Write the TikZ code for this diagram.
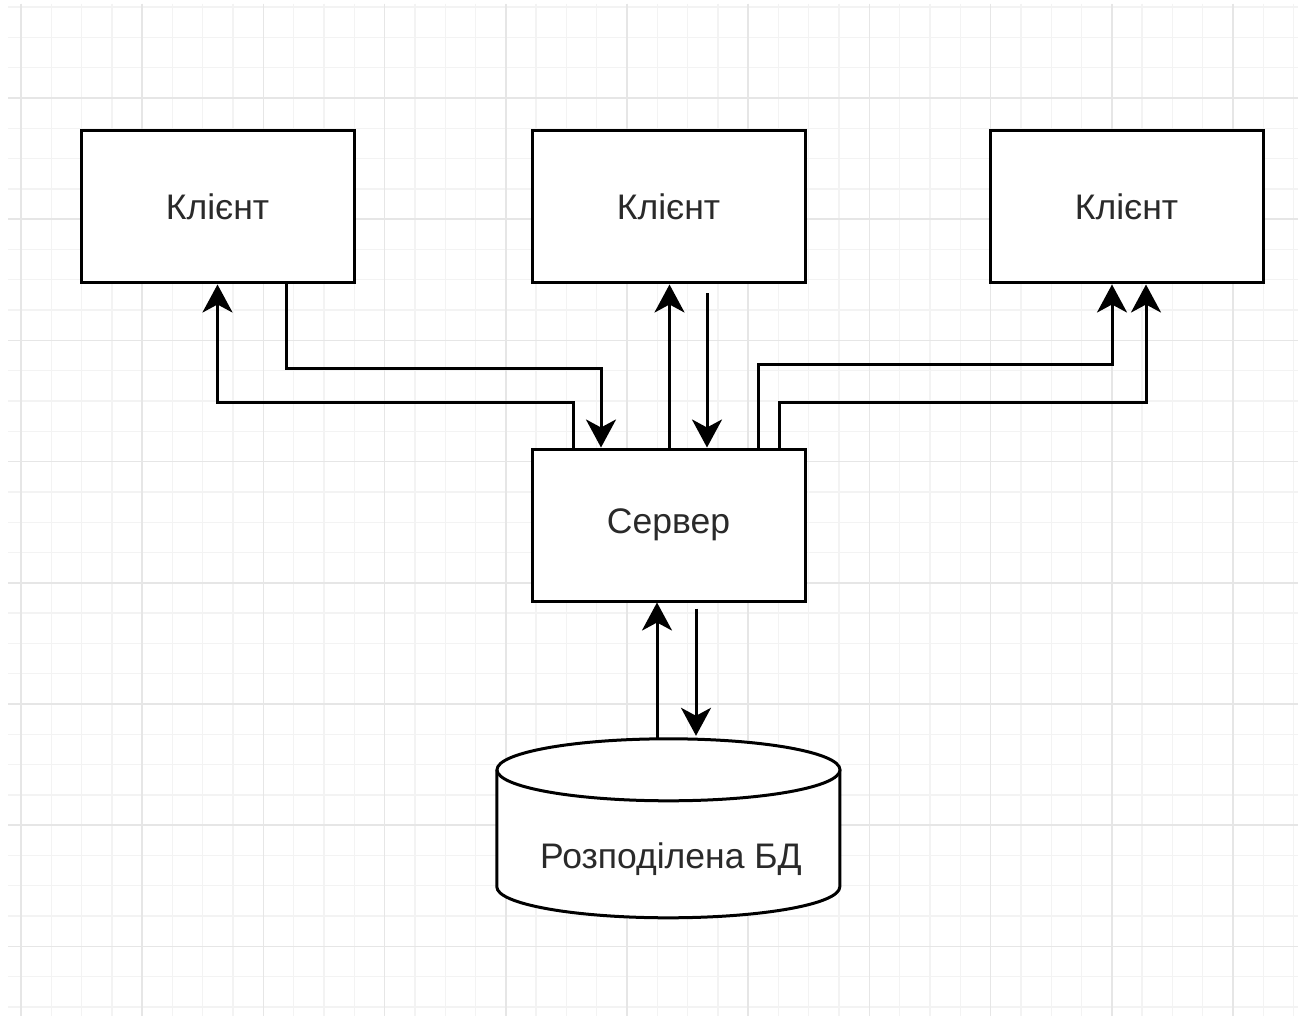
\documentclass[tikz,border=0pt]{standalone}
\usepackage{fontspec}
\setmainfont{Liberation Sans}
\usetikzlibrary{arrows.meta}
\definecolor{gridminor}{HTML}{F3F3F3}
\definecolor{gridmajor}{HTML}{E6E6E6}
\definecolor{ink}{HTML}{2A2A2A}

\begin{document}
\begin{tikzpicture}[x=1pt,y=-1pt]
    \tikzstyle{box}=[rectangle,draw,line width=3pt,fill=white,minimum width=273pt,minimum height=152pt,inner sep=0pt,text=ink,font=\fontsize{35.5}{40}\selectfont]
    \tikzstyle{link}=[line width=3pt,-{Stealth[length=28pt,width=30pt,inset=8pt]}]
    \useasboundingbox (0,0) rectangle (1298,1016);
    \fill[white] (0,0) rectangle (1298,1016);
    % background grid
    \foreach \i in {0,...,42} {
      \draw[gridminor,line width=1.3pt] (21+30.3*\i,4) -- (21+30.3*\i,1016);
    }
    \foreach \i in {0,...,33} {
      \draw[gridminor,line width=1.3pt] (8,7.1+30.3*\i) -- (1298,7.1+30.3*\i);
    }
    \foreach \i in {0,...,10} {
      \draw[gridmajor,line width=1.5pt] (21+121.2*\i,4) -- (21+121.2*\i,1016);
    }
    \foreach \i in {0,...,7} {
      \draw[gridmajor,line width=1.5pt] (8,98+121.2*\i) -- (1298,98+121.2*\i);
    }
    % boxes
    \node[box] (c1) at (217.5,207) {Клієнт};
    \node[box] (c2) at (668.5,207) {Клієнт};
    \node[box] (c3) at (1126.5,207) {Клієнт};
    \node[box] (srv) at (668.5,525) {Сервер};
    % database
    \node[inner sep=0pt,minimum width=343pt,minimum height=179pt] (db) at (668.5,828.5) {};
    \draw[line width=3pt,fill=white] (db.north west) ++(0,31) -- ++(0,117)
      arc[start angle=180,end angle=360,x radius=171.5pt,y radius=31pt] -- ++(0,-117);
    \draw[line width=3pt,fill=white] ([yshift=-31pt]db.north) ellipse [x radius=171.5pt,y radius=31pt];
    \node[text=ink,font=\fontsize{35.5}{40}\selectfont] (dbl) at (671,859) {Розподілена БД};
    % client 1
    \draw[link] ([xshift=-95.5pt]srv.north) -- ++(0,-45) -| (c1.south);
    \draw[link] ([xshift=68.5pt]c1.south) -- ++(0,84) -| ([xshift=-67.5pt]srv.north);
    % client 2
    \draw[link] ([xshift=1pt]srv.north) -- ([xshift=1pt]c2.south);
    \draw[link] ([xshift=38.5pt,yshift=-9pt]c2.south) -- ([xshift=38.5pt]srv.north);
    % client 3
    \draw[link] ([xshift=89.5pt]srv.north) -- ++(0,-83) -| ([xshift=-14.5pt]c3.south);
    \draw[link] ([xshift=110.5pt]srv.north) -- ++(0,-45) -| ([xshift=19.5pt]c3.south);
    % database
    \draw[link] ([xshift=-11.5pt]db.north) -- ([xshift=-11.5pt]srv.south);
    \draw[link] ([xshift=27.5pt,yshift=-6pt]srv.south) -- ([xshift=27.5pt,yshift=3pt]db.north);
\end{tikzpicture}
\end{document}
